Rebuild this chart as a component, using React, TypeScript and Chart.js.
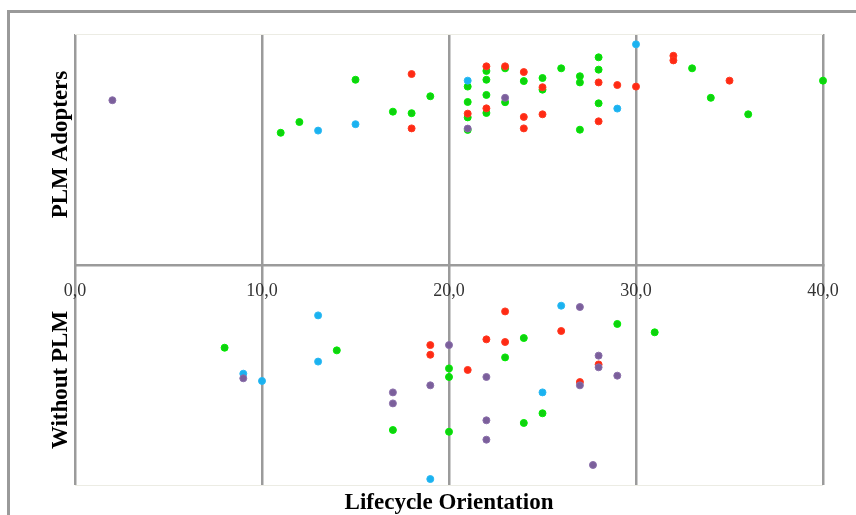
import React, { useEffect, useRef } from "react";
import { Chart, registerables } from "chart.js";

Chart.register(...registerables);

// x = Lifecycle Orientation, y = vertical jitter within group (positive: PLM Adopters, negative: Without PLM)
const redX = [18, 18, 22, 22, 23, 24, 24, 24, 25, 25, 28, 28, 29, 30, 32, 32, 35, 21, 19, 19, 21, 22, 23, 23, 26, 27, 28];
const redY = [86.8, 62.1, 90.3, 71.2, 90.3, 87.7, 67.3, 62.1, 80.8, 68.5, 83, 65.3, 81.8, 81.1, 95.1, 93, 83.8, 68.8, -36.4, -40.8, -47.7, -33.8, -21.1, -35, -30, -53.2, -45.2];

const greenX = [11, 12, 15, 17, 18, 19, 21, 21, 21, 21, 22, 22, 22, 22, 23, 23, 24, 25, 25, 26, 27, 27, 27, 28, 28, 28, 33, 34, 36, 40, 8, 14, 17, 20, 20, 20, 23, 24, 24, 25, 29, 31];
const greenY = [60.1, 65, 84.2, 69.7, 69, 76.7, 81.1, 74.1, 67.1, 61.4, 88.2, 84.2, 77.3, 69.1, 89.4, 74, 83.6, 85, 79.7, 89.4, 85.8, 83, 61.5, 94.4, 88.8, 73.5, 89.4, 76, 68.5, 83.8, -37.6, -38.8, -75, -47, -50.9, -75.8, -42, -33.2, -71.8, -67.4, -26.8, -30.6];

const blueX = [13, 15, 21, 29, 30, 9, 10, 13, 13, 19, 25, 26];
const blueY = [61.1, 64, 83.8, 71.1, 100.3, -49.4, -52.7, -22.9, -43.9, -97.3, -57.9, -18.5];

const purpleX = [2, 21, 23, 9, 17, 17, 19, 20, 22, 22, 22, 27, 27, 27.7, 28, 28, 29];
const purpleY = [74.9, 62, 76, -51.5, -57.9, -62.9, -54.7, -36.4, -50.9, -70.6, -79.4, -19.1, -54.7, -90.9, -41.2, -46.5, -50.3];

const xTicks = [0, 10, 20, 30, 40];
const groupLabels = ["PLM Adopters", "Without PLM"];
const xTitle = "Lifecycle Orientation";

const toPoints = (xs: number[], ys: number[]) => xs.map((x, i) => ({ x, y: ys[i] }));

const titlesPlugin = {
  id: "titles",
  beforeDatasetsDraw(chart: any) {
    const { ctx, chartArea } = chart;
    ctx.save();
    ctx.strokeStyle = "#ecece4";
    ctx.lineWidth = 1;
    ctx.beginPath();
    ctx.moveTo(chartArea.left, chartArea.top + 0.5);
    ctx.lineTo(chartArea.right, chartArea.top + 0.5);
    ctx.moveTo(chartArea.left, chartArea.bottom + 0.5);
    ctx.lineTo(chartArea.right, chartArea.bottom + 0.5);
    ctx.stroke();
    ctx.restore();
  },
  afterDraw(chart: any) {
    const { ctx, chartArea, scales } = chart;
    const y0 = scales.y.getPixelForValue(0);
    ctx.save();
    ctx.fillStyle = "#000";
    ctx.font = "bold 23px 'Liberation Serif', serif";
    ctx.textAlign = "center";
    ctx.textBaseline = "middle";
    const lx = chartArea.left - 14;
    ctx.save();
    ctx.translate(lx, (chartArea.top + y0) / 2 - 5);
    ctx.rotate(-Math.PI / 2);
    ctx.fillText(groupLabels[0], 0, 0);
    ctx.restore();
    ctx.save();
    ctx.translate(lx, (y0 + chartArea.bottom) / 2 + 5);
    ctx.rotate(-Math.PI / 2);
    ctx.fillText(groupLabels[1], 0, 0);
    ctx.restore();
    ctx.fillText(xTitle, (chartArea.left + chartArea.right) / 2, chartArea.bottom + 18);
    ctx.restore();
  },
};

export default function App() {
  const ref = useRef<HTMLCanvasElement | null>(null);
  useEffect(() => {
    if (!ref.current) return;
    const mk = (label: string, xs: number[], ys: number[], bg: string, bd: string) => ({
      label,
      data: toPoints(xs, ys),
      backgroundColor: bg,
      borderColor: bd,
      borderWidth: 1,
      pointRadius: 3.5,
      clip: false as any,
    });
    const chart = new Chart(ref.current, {
      type: "scatter",
      data: {
        datasets: [
          mk("Purple", purpleX, purpleY, "#7b5f9b", "#8a6faa"),
          mk("Blue", blueX, blueY, "#1ab2f0", "#2ab8f2"),
          mk("Red", redX, redY, "#ff2a14", "#ff3a22"),
          mk("Green", greenX, greenY, "#10d010", "#00ee00"),
        ],
      },
      options: {
        animation: false,
        responsive: false,
        layout: { padding: { left: 75, right: 33, top: 34, bottom: 30 } },
        plugins: { legend: { display: false }, tooltip: { enabled: false }, title: { display: false } },
        scales: {
          x: {
            type: "linear",
            min: 0,
            max: 40,
            position: { y: 0 } as any,
            afterBuildTicks: (s: any) => {
              s.ticks = xTicks.map((v) => ({ value: v }));
            },
            ticks: {
              padding: 15,
              color: "#333",
              font: { family: "'Liberation Serif', serif", size: 18 },
              callback: (v: any) => Number(v).toFixed(1).replace(".", ","),
              maxRotation: 0,
            },
            grid: { color: "#9b9b9b", lineWidth: 2.5, drawTicks: false },
            border: { display: true, color: "#9b9b9b", width: 2.5 },
          },
          y: {
            type: "linear",
            min: -100,
            max: 105,
            display: false,
          },
        },
      },
      plugins: [titlesPlugin],
    });
    return () => chart.destroy();
  }, []);
  return (
    <div>
      <div
        style={{
          position: "fixed",
          left: 7,
          top: 10,
          width: 849,
          height: 505,
          borderLeft: "3px solid #9a9a9a",
          borderTop: "3px solid #9a9a9a",
          boxSizing: "border-box",
        }}
      />
      <canvas
        ref={ref}
        width={856}
        height={515}
        style={{ position: "fixed", left: 0, top: 0, width: 856, height: 515 }}
      />
    </div>
  );
}
